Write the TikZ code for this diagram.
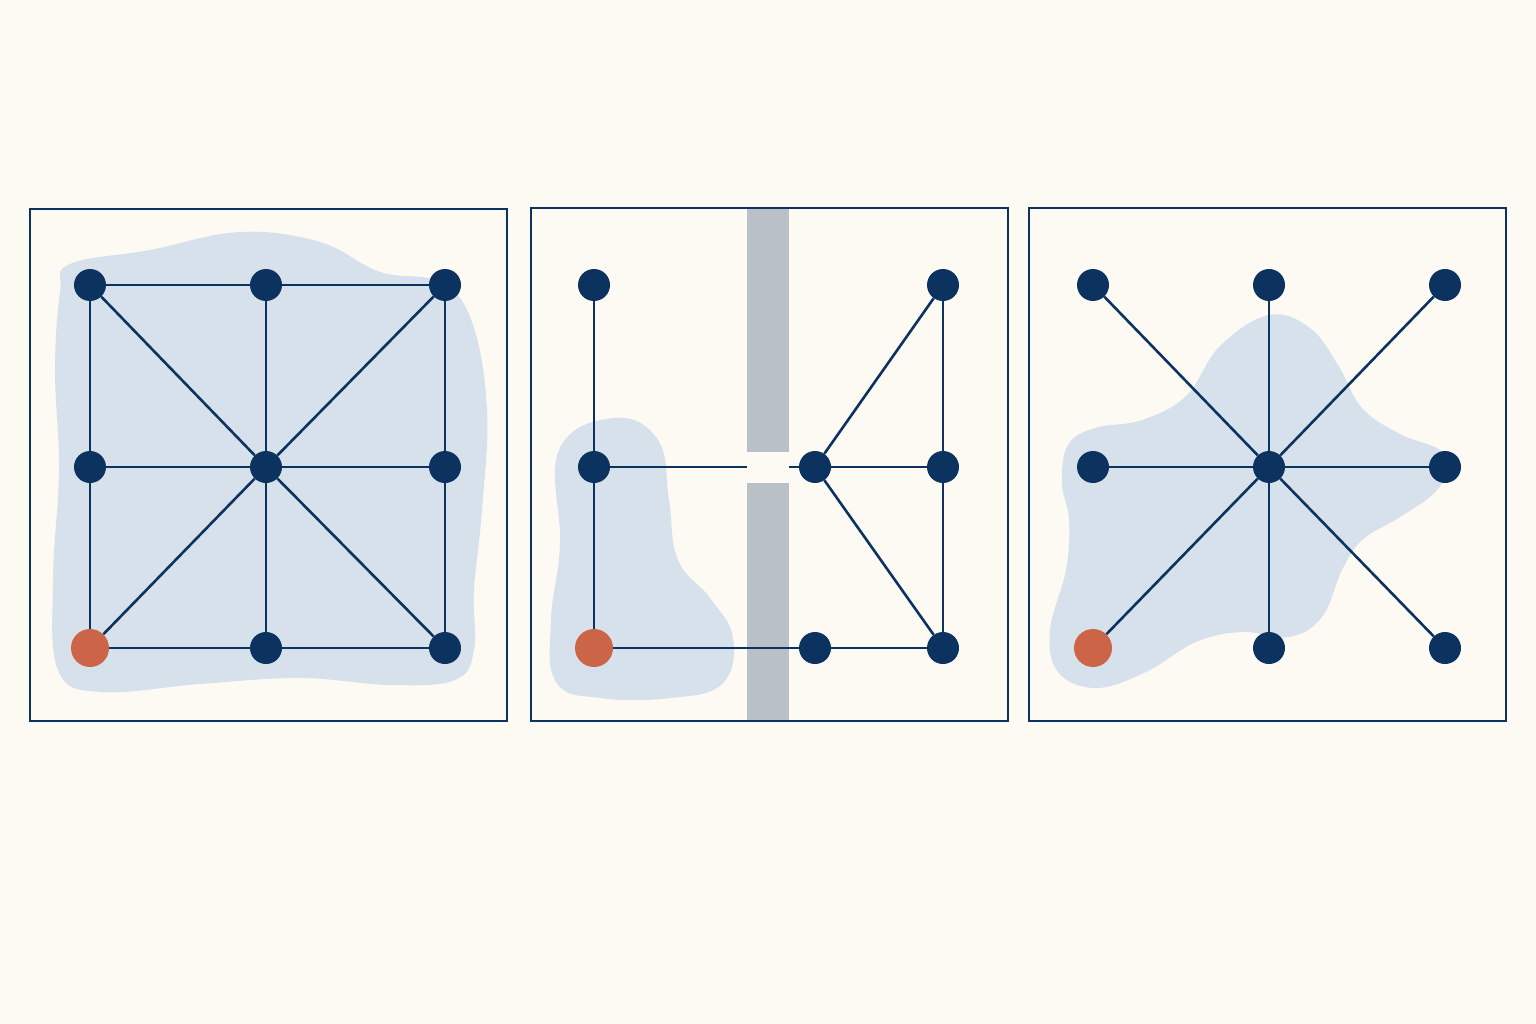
\documentclass[tikz,border=0pt]{standalone}
\usetikzlibrary{positioning}

\definecolor{bgpaper}{RGB}{252,250,243}
\definecolor{navy}{RGB}{12,51,96}
\definecolor{rust}{RGB}{204,100,72}
\definecolor{haze}{RGB}{214,225,236}
\definecolor{wallgray}{RGB}{185,192,199}

\tikzset{
  vtx/.style={circle, fill=navy, inner sep=0pt, minimum size=32pt},
  src/.style={circle, fill=rust, inner sep=0pt, minimum size=38pt},
  link/.style={draw=navy, line width=2.6pt},
  panel/.style={draw=navy, line width=2pt},
  region/.style={fill=haze, draw=none}
}

\begin{document}
\begin{tikzpicture}[x=1pt, y=-1pt]
\useasboundingbox[fill=bgpaper] (0,0) rectangle (1536,1024);

% shaded regions
\fill[region] plot[smooth cycle, tension=0.65] coordinates {
  (70,264) (150,250) (240,232) (320,242) (380,272) (440,282) (472,322)
  (487,410) (482,510) (474,590) (474,650) (455,680) (390,685) (300,678)
  (200,684) (100,692) (58,670) (53,580) (59,470) (55,370) (60,292)};
\fill[region] plot[smooth cycle, tension=0.7] coordinates {
  (614,418) (658,440) (669,500) (678,560) (710,598) (733,638)
  (722,684) (670,698) (600,698) (556,682) (551,620) (560,545) (559,450)};
\fill[region] plot[smooth cycle, tension=0.65] coordinates {
  (1269,315) (1310,328) (1338,365) (1362,408) (1400,434) (1440,450)
  (1448,470) (1432,495) (1395,520) (1362,540) (1342,570) (1322,617)
  (1289,637) (1242,632) (1196,642) (1146,672) (1096,688) (1058,672)
  (1050,630) (1066,570) (1069,520) (1062,483) (1068,445) (1095,428)
  (1142,420) (1186,396) (1220,346)};

% wall
\fill[wallgray] (747,209) rectangle (789,452);
\fill[wallgray] (747,483) rectangle (789,720);

% left panel: full grid
\node[vtx] (a11) at (90,285) {};
\node[vtx] (a12) at (266,285) {};
\node[vtx] (a13) at (445,285) {};
\node[vtx] (a21) at (90,467) {};
\node[vtx] (a22) at (266,467) {};
\node[vtx] (a23) at (445,467) {};
\node[src] (a31) at (90,648) {};
\node[vtx] (a32) at (266,648) {};
\node[vtx] (a33) at (445,648) {};
\foreach \p/\q in {a11/a12, a12/a13, a21/a22, a22/a23, a31/a32, a32/a33,
                   a11/a21, a21/a31, a12/a22, a22/a32, a13/a23, a23/a33,
                   a22/a11, a22/a13, a22/a31, a22/a33}
  \draw[link] (\p) -- (\q);

% middle panel: cut by the wall
\node[vtx] (b11) at (594,285) {};
\node[vtx] (b13) at (943,285) {};
\node[vtx] (b21) at (594,467) {};
\node[vtx] (b22) at (815,467) {};
\node[vtx] (b23) at (943,467) {};
\node[src] (b31) at (594,648) {};
\node[vtx] (b32) at (815,648) {};
\node[vtx] (b33) at (943,648) {};
\coordinate (cutL) at (747,467);
\coordinate (cutR) at (789,467);
\foreach \p/\q in {b11/b21, b21/b31, b31/b32, b32/b33, b22/b13, b22/b23,
                   b22/b33, b13/b23, b23/b33}
  \draw[link] (\p) -- (\q);
\draw[link] (b21) -- (cutL);
\draw[link] (cutR) -- (b22);

% right panel: star
\node[vtx] (c11) at (1093,285) {};
\node[vtx] (c12) at (1269,285) {};
\node[vtx] (c13) at (1445,285) {};
\node[vtx] (c21) at (1093,467) {};
\node[vtx] (c22) at (1269,467) {};
\node[vtx] (c23) at (1445,467) {};
\node[src] (c31) at (1093,648) {};
\node[vtx] (c32) at (1269,648) {};
\node[vtx] (c33) at (1445,648) {};
\foreach \q in {c11, c12, c13, c21, c23, c31, c32, c33}
  \draw[link] (c22) -- (\q);

% frames
\draw[panel] (30,209) rectangle (507,721);
\draw[panel] (531,208) rectangle (1008,721);
\draw[panel] (1029,208) rectangle (1506,721);
\end{tikzpicture}
\end{document}
